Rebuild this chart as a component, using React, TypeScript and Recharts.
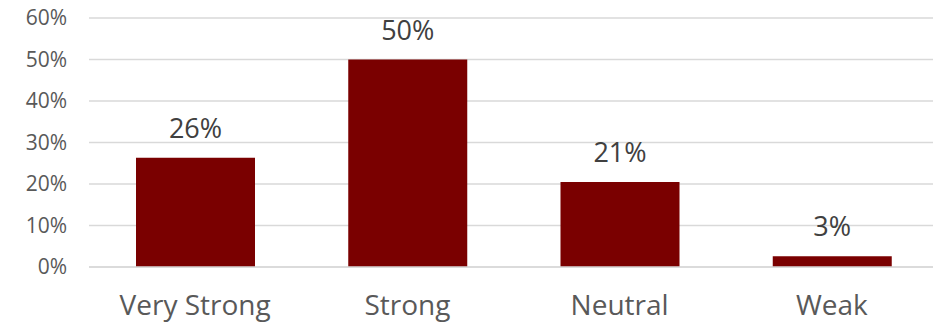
import { BarChart, Bar, XAxis, YAxis, CartesianGrid, LabelList } from 'recharts'

const categories = ['Very Strong', 'Strong', 'Neutral', 'Weak']
const shares = [26.3, 50, 20.5, 2.6]
const yTicks = [0, 10, 20, 30, 40, 50, 60]

const data = categories.map((name, i) => ({ name, value: shares[i] }))

const FONT = '"Open Sans", sans-serif'

export default function App() {
  return (
    <div style={{ position: 'absolute', left: 0, top: 0, width: 933, height: 325, overflow: 'hidden', background: '#fff' }}>
      <BarChart
        width={933}
        height={325}
        data={data}
        margin={{ top: 18, right: -5, bottom: 0, left: 0 }}
        barSize={119}
      >
        <CartesianGrid vertical={false} stroke="#d9d9d9" strokeWidth={1.5} />
        <XAxis
          dataKey="name"
          height={58}
          axisLine={{ stroke: '#d9d9d9', strokeWidth: 1.5 }}
          tickLine={false}
          tickMargin={22}
          tick={{ fill: '#595959', fontSize: 28, fontFamily: FONT }}
        />
        <YAxis
          width={89}
          domain={[0, 60]}
          ticks={yTicks}
          axisLine={false}
          tickLine={false}
          tickMargin={16}
          tickFormatter={(v) => `${v}%`}
          tick={{ fill: '#595959', fontSize: 21, fontFamily: FONT }}
        />
        <Bar dataKey="value" fill="#7a0000" isAnimationActive={false}>
          <LabelList
            dataKey="value"
            position="top"
            offset={20}
            formatter={(v: number) => `${Math.round(v)}%`}
            style={{ fill: '#404040', fontSize: 27, fontFamily: FONT }}
          />
        </Bar>
      </BarChart>
    </div>
  )
}
